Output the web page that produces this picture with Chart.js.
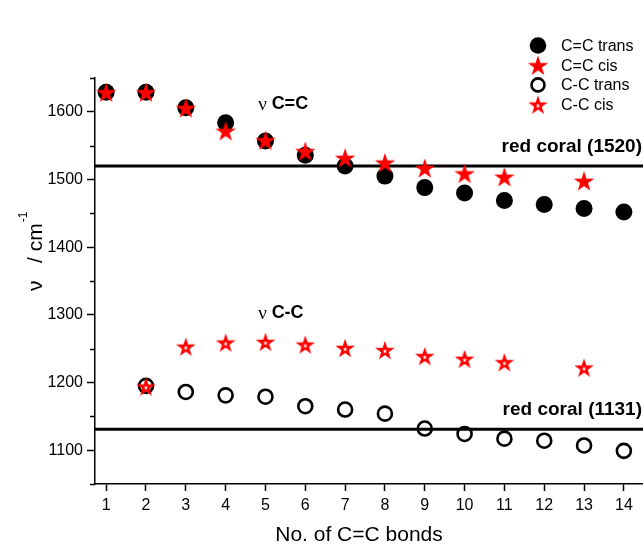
<!DOCTYPE html>
<html>
<head>
<meta charset="utf-8">
<script src="https://cdn.jsdelivr.net/npm/chart.js@4.4.0/dist/chart.umd.min.js"></script>
<style>
  html, body { margin: 0; padding: 0; background: #fff; }
  #wrap { width: 643px; height: 545px; }
</style>
</head>
<body>
<div id="wrap"><canvas id="bondChart" width="643" height="545"></canvas></div>
<script>
// Raman band positions vs. number of conjugated C=C bonds

const bonds = [1, 2, 3, 4, 5, 6, 7, 8, 9, 10, 11, 12, 13, 14];
const yTickLabels = [1100, 1200, 1300, 1400, 1500, 1600];

// C=C stretching
const ccTrans = [1629, 1629, 1606, 1584, 1557, 1536, 1520, 1505, 1488, 1480, 1469, 1463, 1457, 1452];
const ccCis   = [1629, 1629, 1606, 1572, 1558, 1542, 1532, 1525, 1517, 1509, 1504, null, 1498, null];

// C-C stretching
const cTrans = [null, 1195, 1186, 1181, 1179, 1165, 1160, 1154, 1132, 1124, 1117, 1114, 1107, 1099];
const cCis   = [null, 1194, 1253, 1259, 1260, 1256, 1251, 1248, 1239, 1235, 1230, null, 1222, null];

// reference lines
const coralLevels = [1520, 1131];
const coralLabels = ['red coral (1520)', 'red coral (1131)'];

const seriesNames = ['C=C trans', 'C=C cis', 'C-C trans', 'C-C cis'];

const X_MIN = 0.72, X_MAX = 14.48;
const Y_MIN = 1050, Y_MAX = 1650;

/**
 * Five pointed star path on a 2d context
 */
function starPath(g, cx, cy, outer) {
  const inner = outer * 0.382;
  g.beginPath();
  for (let i = 0; i < 10; i++) {
    const r = i % 2 === 0 ? outer : inner;
    const a = -Math.PI / 2 + i * Math.PI / 5;
    const px = cx + r * Math.cos(a), py = cy + r * Math.sin(a);
    if (i === 0) g.moveTo(px, py); else g.lineTo(px, py);
  }
  g.closePath();
}

/**
 * Star drawn on a small canvas, used as point style
 */
function makeStar(outer, hole) {
  const size = 26;
  const c = document.createElement('canvas');
  c.width = size; c.height = size;
  const g = c.getContext('2d');
  const cx = size / 2, cy = size / 2 + 1;
  starPath(g, cx, cy, outer);
  g.fillStyle = '#ff0000';
  g.fill();
  if (hole) {
    starPath(g, cx, cy + 0.3, hole);
    g.fillStyle = '#ffffff';
    g.fill();
  }
  return c;
}

const starFilled = makeStar(10.8, 0);
const starOpen = makeStar(10.3, 2.5);

function toPoints(values) {
  return bonds.map((b, i) => ({ x: b, y: values[i] })).filter(p => p.y !== null);
}

/**
 * Texts, minor ticks, y title and legend
 */
const decorPlugin = {
  id: 'decor',
  afterDraw(chart) {
    const { ctx, chartArea } = chart;
    const xs = chart.scales.x, ys = chart.scales.y;
    ctx.save();
    ctx.fillStyle = '#000';
    ctx.strokeStyle = '#000';

    // minor y ticks
    ctx.lineWidth = 1.5;
    ys.ticks.forEach(t => {
      if (t.value % 100 !== 0) {
        const py = Math.round(ys.getPixelForValue(t.value)) + 0.5;
        ctx.beginPath();
        ctx.moveTo(chartArea.left - 5, py);
        ctx.lineTo(chartArea.left, py);
        ctx.stroke();
      }
    });

    // red coral labels
    ctx.font = 'bold 19px "Liberation Sans", Arial, sans-serif';
    ctx.textAlign = 'right';
    ctx.textBaseline = 'middle';
    coralLevels.forEach((lvl, i) => {
      ctx.fillText(coralLabels[i], chartArea.right - 1, ys.getPixelForValue(lvl) - 19);
    });

    // band labels
    function bandLabel(xv, yv, bold) {
      const px = xs.getPixelForValue(xv), py = ys.getPixelForValue(yv);
      ctx.textAlign = 'left';
      ctx.font = '19px "Liberation Serif", "Times New Roman", serif';
      ctx.fillText('\u03bd', px, py + 1);
      const w = ctx.measureText('\u03bd ').width;
      ctx.font = 'bold 18px "Liberation Sans", Arial, sans-serif';
      ctx.fillText(bold, px + w, py);
    }
    bandLabel(4.82, 1611, 'C=C');
    bandLabel(4.82, 1303, 'C-C');

    // y axis title with superscript
    ctx.save();
    ctx.translate(42, 291);
    ctx.rotate(-Math.PI / 2);
    ctx.textAlign = 'left';
    ctx.textBaseline = 'alphabetic';
    ctx.font = '21px "Liberation Sans", Arial, sans-serif';
    const main = '\u03bd   / cm';
    ctx.fillText(main, 0, 0);
    const mw = ctx.measureText(main).width;
    ctx.font = '12px "Liberation Sans", Arial, sans-serif';
    ctx.fillText('-1', mw + 1, -15);
    ctx.restore();

    // x axis title
    ctx.font = '21px "Liberation Sans", Arial, sans-serif';
    ctx.textAlign = 'center';
    ctx.textBaseline = 'middle';
    ctx.fillText('No. of C=C bonds', (chartArea.left + chartArea.right) / 2 - 10, 535);

    // legend
    const lx = 538, ty = 45.5, step = 19.7;
    ctx.font = '16px "Liberation Sans", Arial, sans-serif';
    ctx.textAlign = 'left';
    seriesNames.forEach((name, i) => {
      const ly = ty + i * step;
      if (i === 0) {
        ctx.beginPath();
        ctx.arc(lx, ly, 8.3, 0, Math.PI * 2);
        ctx.fill();
      } else if (i === 2) {
        ctx.beginPath();
        ctx.lineWidth = 2.6;
        ctx.arc(lx, ly, 6.5, 0, Math.PI * 2);
        ctx.stroke();
      } else {
        const img = i === 1 ? starFilled : starOpen;
        ctx.drawImage(img, lx - img.width / 2, ly - img.height / 2);
      }
      ctx.fillText(name, 561, ly + 1);
    });

    ctx.restore();
  }
};

const chart = new Chart(document.getElementById('bondChart'), {
  type: 'scatter',
  data: {
    datasets: [
      {
        label: seriesNames[0],
        data: toPoints(ccTrans),
        pointStyle: 'circle',
        pointRadius: 8.5,
        backgroundColor: '#000',
        borderColor: '#000',
        borderWidth: 0,
        order: 2
      },
      {
        label: seriesNames[1],
        data: toPoints(ccCis),
        pointStyle: starFilled,
        order: 1
      },
      {
        label: seriesNames[2],
        data: toPoints(cTrans),
        pointStyle: 'circle',
        pointRadius: 7,
        backgroundColor: 'rgba(0,0,0,0)',
        borderColor: '#000',
        borderWidth: 2.6,
        order: 2
      },
      {
        label: seriesNames[3],
        data: toPoints(cCis),
        pointStyle: starOpen,
        order: 1
      },
      ...coralLevels.map(lvl => ({
        label: 'red coral ' + lvl,
        data: [{ x: X_MIN, y: lvl }, { x: X_MAX, y: lvl }],
        showLine: true,
        borderColor: '#000',
        borderWidth: 3,
        pointRadius: 0,
        order: 3
      }))
    ]
  },
  options: {
    responsive: false,
    animation: false,
    devicePixelRatio: 1,
    layout: { autoPadding: false, padding: { top: 78, right: 0, left: 0, bottom: 0 } },
    plugins: {
      legend: { display: false },
      tooltip: { enabled: false }
    },
    scales: {
      x: {
        type: 'linear',
        min: X_MIN,
        max: X_MAX,
        afterBuildTicks: scale => { scale.ticks = bonds.map(v => ({ value: v })); },
        afterFit: scale => { scale.height = 61; scale.paddingLeft = 0; scale.paddingRight = 0; },
        border: { display: true, color: '#000', width: 1.5 },
        grid: { display: true, drawOnChartArea: false, drawTicks: true, tickLength: 7, tickColor: '#000', tickWidth: 1.5 },
        ticks: {
          autoSkip: false,
          maxRotation: 0,
          padding: 5,
          color: '#000',
          font: { size: 16, family: '"Liberation Sans", Arial, sans-serif' },
          callback: v => String(v)
        }
      },
      y: {
        min: Y_MIN,
        max: Y_MAX,
        afterFit: scale => { scale.width = 95; scale.paddingTop = 0; scale.paddingBottom = 0; },
        border: { display: true, color: '#000', width: 1.5 },
        grid: {
          display: true,
          drawOnChartArea: false,
          drawTicks: true,
          tickLength: 8,
          tickWidth: 1.5,
          tickColor: c => (c.tick && yTickLabels.includes(c.tick.value)) ? '#000' : 'rgba(0,0,0,0)'
        },
        ticks: {
          stepSize: 50,
          padding: 4,
          color: '#000',
          font: { size: 16, family: '"Liberation Sans", Arial, sans-serif' },
          callback: v => yTickLabels.includes(v) ? String(v) : ''
        }
      }
    }
  },
  plugins: [decorPlugin]
});
</script>
</body>
</html>
